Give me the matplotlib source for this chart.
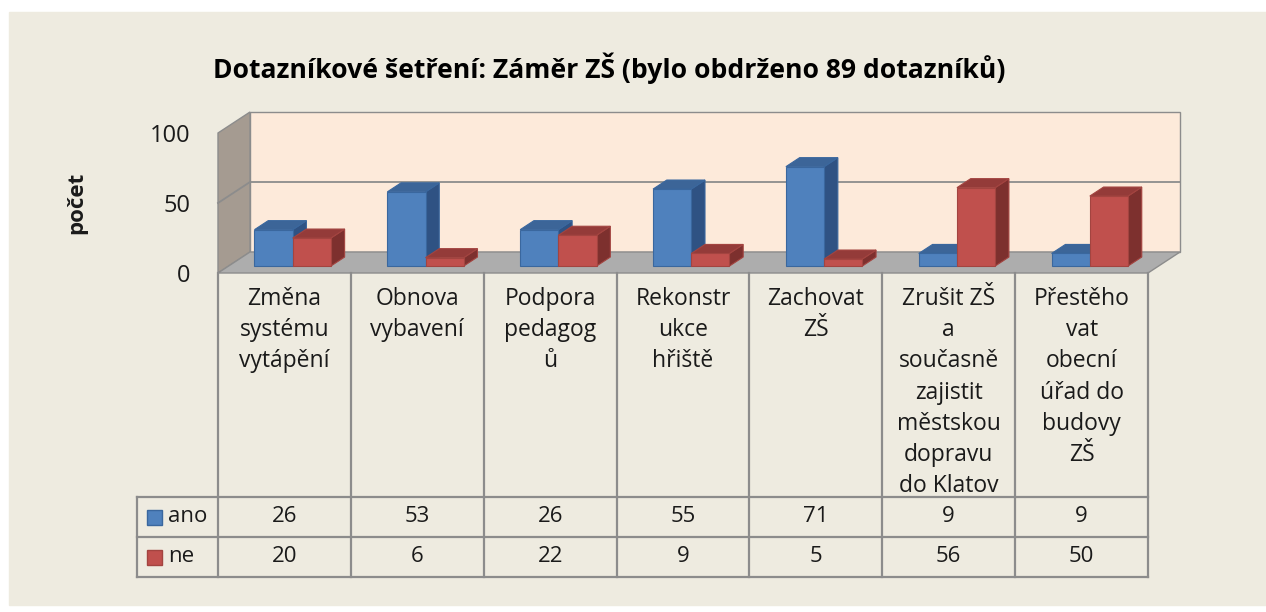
import matplotlib
matplotlib.use("Agg")
import matplotlib.pyplot as plt
from matplotlib.patches import Polygon, Rectangle

# ---------------- data ----------------
categories = ["Změna\nsystému\nvytápění", "Obnova\nvybavení", "Podpora\npedagog\nů",
              "Rekonstr\nukce\nhřiště", "Zachovat\nZŠ",
              "Zrušit ZŠ\na\nsoučasně\nzajistit\nměstskou\ndopravu\ndo Klatov",
              "Přestěho\nvat\nobecní\núřad do\nbudovy\nZŠ"]
series_names = ["ano", "ne"]
ano = [26, 53, 26, 55, 71, 9, 9]
ne = [20, 6, 22, 9, 5, 56, 50]
yticks = [0, 50, 100]
title = "Dotazníkové šetření: Záměr ZŠ (bylo obdrženo 89 dotazníků)"
ylabel = "počet"

# ---------------- style ----------------
plt.rcParams["font.family"] = ["Open Sans", "DejaVu Sans"]
BG = "#EEEBE0"
GRID = "#8C8C8C"
TXT = "#1A1A1A"
face = {"ano": ("#4F81BD", "#3C6598", "#2F5283", "#3A679E"),
        "ne": ("#C0504D", "#943B39", "#7D302E", "#A34440")}

W, H = 1266, 612
fig = plt.figure(figsize=(W / 100, H / 100), dpi=100)
fig.patch.set_facecolor("white")
fig.patches.append(Rectangle((9 / W, 7 / H), 1 - 9 / W, 593 / H,
                             transform=fig.transFigure, color=BG, zorder=-10))

# front plane box of the 3D plot in pixels
L, R, T, B = 218, 1148, 133, 273
ax = fig.add_axes([L / W, 1 - B / H, (R - L) / W, (B - T) / H])
n = len(categories)
ax.set_xlim(0, n)
ax.set_ylim(0, 100)
ax.patch.set_visible(False)
for s in ax.spines.values():
    s.set_visible(False)
ax.set_xticks([])
ax.set_yticks(yticks)
ax.tick_params(axis="y", length=0, pad=20, labelsize=17, labelcolor=TXT)
ax.set_ylabel(ylabel, fontsize=16, fontweight="bold", color=TXT)
ax.yaxis.set_label_coords(-0.141, 0.5)

px_x = (R - L) / n          # pixels per category
px_v = (B - T) / 100.0      # pixels per value unit
DX = 32 / px_x              # depth offset (category units)
DY = 21 / px_v              # depth offset (value units)


def P(x, v, d):
    return (x + d * DX, v + d * DY)


def poly(pts, fc, ec=GRID, lw=1.0, z=1):
    ax.add_patch(Polygon(pts, closed=True, facecolor=fc, edgecolor=ec,
                         linewidth=lw, zorder=z, clip_on=False,
                         joinstyle="miter"))


# back wall, left wall, floor
poly([P(0, 0, 1), P(n, 0, 1), P(n, 100, 1), P(0, 100, 1)], "#FDEADA", z=1)
poly([P(0, 0, 0), P(0, 0, 1), P(0, 100, 1), P(0, 100, 0)], "#A59B91", z=1)
for t in yticks[1:-1]:
    xs, ys = zip(P(0, t, 0), P(0, t, 1), P(n, t, 1))
    ax.plot(xs, ys, color=GRID, lw=1.3, zorder=1.5, clip_on=False)
poly([P(0, 0, 0), P(n, 0, 0), P(n, 0, 1), P(0, 0, 1)], "#ADADAD", z=2)

# bars
d0, d1 = 0.33, 0.76
bw, off = 0.2875, 0.195
for i in range(n):
    for s, (name, vals) in enumerate(zip(series_names, [ano, ne])):
        v = vals[i]
        fr, tp, sd, ec = face[name]
        x0 = i + off + s * bw
        x1 = x0 + bw
        z = 3 + i * 0.1 + s * 0.05
        poly([P(x1, 0, d0), P(x1, 0, d1), P(x1, v, d1), P(x1, v, d0)], sd, ec, 0.8, z)
        poly([P(x0, v, d0), P(x1, v, d0), P(x1, v, d1), P(x0, v, d1)], tp, ec, 0.8, z)
        poly([P(x0, 0, d0), P(x1, 0, d0), P(x1, v, d0), P(x0, v, d0)], fr, ec, 0.8, z)

# ---------------- data table ----------------
def vy(py):
    return (B - py) / px_v


def vx(px):
    return (px - L) / px_x


r1, r2, r3 = vy(497), vy(537), vy(577)
xl = vx(137)
lk = dict(color=GRID, lw=1.6, clip_on=False, zorder=2, solid_capstyle="projecting")
for yy in (r1, r2, r3):
    ax.plot([xl, n], [yy, yy], **lk)
for k in range(n + 1):
    ax.plot([k, k], [0, r3], **lk)
ax.plot([xl, xl], [r1, r3], **lk)

for i, lab in enumerate(categories):
    ax.text(i + 0.5, vy(287), lab, ha="center", va="top", fontsize=16.5,
            linespacing=1.40, color=TXT, clip_on=False)

rows = [(r1 + r2) / 2, (r2 + r3) / 2]
for (name, vals), yc in zip(zip(series_names, [ano, ne]), rows):
    fr, tp, sd, ec = face[name]
    sq_h = 15 / px_v
    ax.add_patch(Rectangle((vx(147), yc - sq_h / 2), 15 / px_x, sq_h,
                           facecolor=fr, edgecolor=ec, lw=1.0, clip_on=False, zorder=3))
    ax.text(vx(168), yc, name, ha="left", va="center", fontsize=16,
            color=TXT, clip_on=False)
    for i, v in enumerate(vals):
        ax.text(i + 0.5, yc, str(v), ha="center", va="center", fontsize=16,
                color=TXT, clip_on=False)

fig.text(609 / W, 1 - 68 / H, title, ha="center", va="center",
         fontsize=19.1, fontweight="bold", color="black")

fig.savefig("out.png", dpi=100, facecolor=fig.get_facecolor())
